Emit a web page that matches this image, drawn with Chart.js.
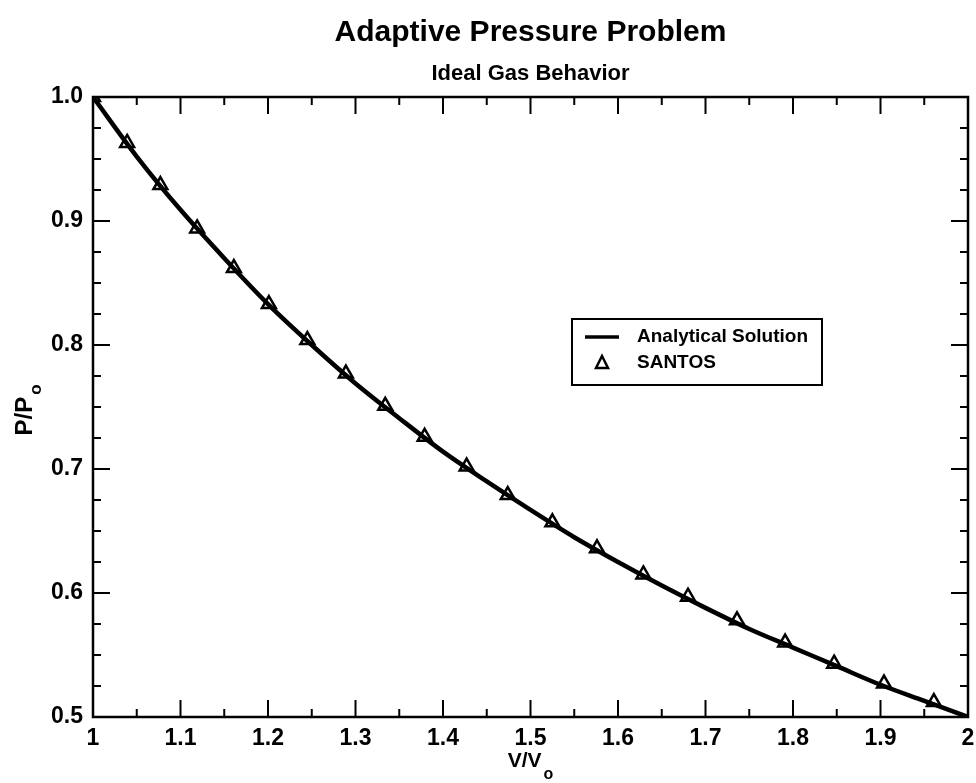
<!DOCTYPE html>
<html>
<head>
<meta charset="utf-8">
<script src="https://cdn.jsdelivr.net/npm/chart.js@4.4.0/dist/chart.umd.min.js"></script>
<style>
html,body{margin:0;padding:0;background:#fff;}
#wrap{width:976px;height:783px;}
</style>
</head>
<body>
<div id="wrap"><canvas id="c" width="976" height="783"></canvas></div>
<script>
const titleText = "Adaptive Pressure Problem";
const subtitleText = "Ideal Gas Behavior";
const xTitle = ["V/V", "o"];
const yTitle = ["P/P", "o"];

const xTickLabels = ["1", "1.1", "1.2", "1.3", "1.4", "1.5", "1.6", "1.7", "1.8", "1.9", "2"];
const yTickLabels = ["0.5", "0.6", "0.7", "0.8", "0.9", "1.0"];

const analyticalLabel = "Analytical Solution";
const analyticalX = [1.00, 1.05, 1.10, 1.15, 1.20, 1.25, 1.30, 1.35, 1.40, 1.45, 1.50, 1.55, 1.60, 1.65, 1.70, 1.75, 1.80, 1.85, 1.90, 1.95, 2.00];
const analyticalY = [1.000, 0.952, 0.909, 0.870, 0.833, 0.800, 0.769, 0.741, 0.714, 0.690, 0.667, 0.645, 0.625, 0.606, 0.588, 0.571, 0.556, 0.541, 0.526, 0.513, 0.500];

const santosLabel = "SANTOS";
const santosX = [1.000, 1.039, 1.077, 1.119, 1.161, 1.201, 1.245, 1.289, 1.334, 1.379, 1.427, 1.474, 1.525, 1.576, 1.629, 1.680, 1.736, 1.791, 1.847, 1.904, 1.961];
const santosY = [1.000, 0.963, 0.929, 0.894, 0.862, 0.833, 0.804, 0.777, 0.751, 0.726, 0.702, 0.679, 0.657, 0.636, 0.615, 0.597, 0.578, 0.560, 0.543, 0.527, 0.512];

const FONT = "'Liberation Sans', Arial, Helvetica, sans-serif";

const decor = {
  id: 'decor',
  afterDatasetsDraw(chart) {
    const ctx = chart.ctx;
    const ca = chart.chartArea;
    const xs = chart.scales.x, ys = chart.scales.y;
    ctx.save();
    ctx.strokeStyle = '#000';
    ctx.fillStyle = '#000';
    // ticks (inward, all four sides)
    ctx.lineWidth = 2;
    ctx.beginPath();
    for (let i = 0; i <= 20; i++) {
      const v = 1 + i * 0.05;
      const px = xs.getPixelForValue(v);
      const len = (i % 2 === 0) ? 17 : 8;
      ctx.moveTo(px, ca.bottom); ctx.lineTo(px, ca.bottom - len);
      ctx.moveTo(px, ca.top); ctx.lineTo(px, ca.top + len);
    }
    for (let i = 0; i <= 20; i++) {
      const v = 0.5 + i * 0.025;
      const py = ys.getPixelForValue(v);
      const len = (i % 4 === 0) ? 17 : 8;
      ctx.moveTo(ca.left, py); ctx.lineTo(ca.left + len, py);
      ctx.moveTo(ca.right, py); ctx.lineTo(ca.right - len, py);
    }
    ctx.stroke();
    // frame
    ctx.lineWidth = 2.5;
    ctx.strokeRect(ca.left, ca.top, ca.right - ca.left, ca.bottom - ca.top);

    const cx = (ca.left + ca.right) / 2;
    // title
    ctx.textAlign = 'center';
    ctx.textBaseline = 'alphabetic';
    ctx.font = "bold 30px " + FONT;
    ctx.fillText(titleText, cx, 41);
    ctx.font = "bold 22px " + FONT;
    ctx.fillText(subtitleText, cx, 80);

    // x title
    ctx.font = "bold 21px " + FONT;
    const wx = ctx.measureText(xTitle[0]).width;
    ctx.font = "bold 16px " + FONT;
    const wxs = ctx.measureText(xTitle[1]).width;
    let sx = cx - (wx + wxs + 2) / 2;
    ctx.textAlign = 'left';
    ctx.font = "bold 21px " + FONT;
    ctx.fillText(xTitle[0], sx, 767);
    ctx.font = "bold 16px " + FONT;
    ctx.fillText(xTitle[1], sx + wx + 2, 779);

    // y title rotated
    ctx.save();
    ctx.translate(32, 410);
    ctx.rotate(-Math.PI / 2);
    ctx.font = "bold 24px " + FONT;
    const wy = ctx.measureText(yTitle[0]).width;
    ctx.font = "bold 17px " + FONT;
    const wys = ctx.measureText(yTitle[1]).width;
    let sy = -(wy + wys + 2) / 2;
    ctx.font = "bold 24px " + FONT;
    ctx.fillText(yTitle[0], sy, 0);
    ctx.font = "bold 17px " + FONT;
    ctx.fillText(yTitle[1], sy + wy + 2, 9);
    ctx.restore();

    // legend
    const lx = 572, ly = 319, lw = 250, lh = 66;
    ctx.fillStyle = '#fff';
    ctx.fillRect(lx, ly, lw, lh);
    ctx.lineWidth = 2;
    ctx.strokeRect(lx, ly, lw, lh);
    ctx.fillStyle = '#000';
    ctx.lineWidth = 3.5;
    ctx.beginPath();
    ctx.moveTo(585, 337); ctx.lineTo(619, 337);
    ctx.stroke();
    ctx.lineWidth = 2.5;
    ctx.beginPath();
    ctx.moveTo(602, 356); ctx.lineTo(608, 368); ctx.lineTo(596, 368); ctx.closePath();
    ctx.stroke();
    ctx.font = "bold 19px " + FONT;
    ctx.textAlign = 'left';
    ctx.textBaseline = 'middle';
    ctx.fillText(chart.data.datasets[0].label, 637, 337);
    ctx.fillText(chart.data.datasets[1].label, 637, 363);
    ctx.restore();
  }
};

const ctx = document.getElementById('c').getContext('2d');
new Chart(ctx, {
  type: 'scatter',
  data: {
    datasets: [
      {
        label: analyticalLabel,
        data: analyticalX.map((x, i) => ({x: x, y: analyticalY[i]})),
        showLine: true,
        borderColor: '#000',
        borderWidth: 4.5,
        pointRadius: 0,
        cubicInterpolationMode: 'monotone',
        fill: false,
        order: 2
      },
      {
        label: santosLabel,
        data: santosX.map((x, i) => ({x: x, y: santosY[i]})),
        showLine: false,
        pointStyle: 'triangle',
        pointRadius: 8,
        pointBorderWidth: 2.5,
        pointBorderColor: '#000',
        pointBackgroundColor: 'rgba(0,0,0,0)',
        order: 1
      }
    ]
  },
  options: {
    responsive: false,
    animation: false,
    devicePixelRatio: 1,
    layout: { autoPadding: false, padding: { top: 97, right: 8, left: 0, bottom: 0 } },
    plugins: { legend: { display: false }, title: { display: false }, tooltip: { enabled: false } },
    scales: {
      x: {
        type: 'linear', min: 1, max: 2,
        afterFit(s) { s.height = 66; s.paddingLeft = 0; s.paddingRight = 0; },
        afterBuildTicks(s) { s.ticks = xTickLabels.map(t => ({value: parseFloat(t)})); },
        grid: { display: false, drawTicks: false },
        border: { display: false },
        ticks: {
          padding: 8,
          color: '#000',
          font: { family: FONT, size: 23, weight: 'bold' },
          callback: (v, i) => xTickLabels[i]
        }
      },
      y: {
        type: 'linear', min: 0.5, max: 1,
        afterFit(s) { s.width = 93; s.paddingTop = 0; s.paddingBottom = 0; },
        afterBuildTicks(s) { s.ticks = yTickLabels.map(t => ({value: parseFloat(t)})); },
        grid: { display: false, drawTicks: false },
        border: { display: false },
        ticks: {
          padding: 10,
          color: '#000',
          font: { family: FONT, size: 23, weight: 'bold' },
          callback: (v, i) => yTickLabels[i]
        }
      }
    }
  },
  plugins: [decor]
});
</script>
</body>
</html>
